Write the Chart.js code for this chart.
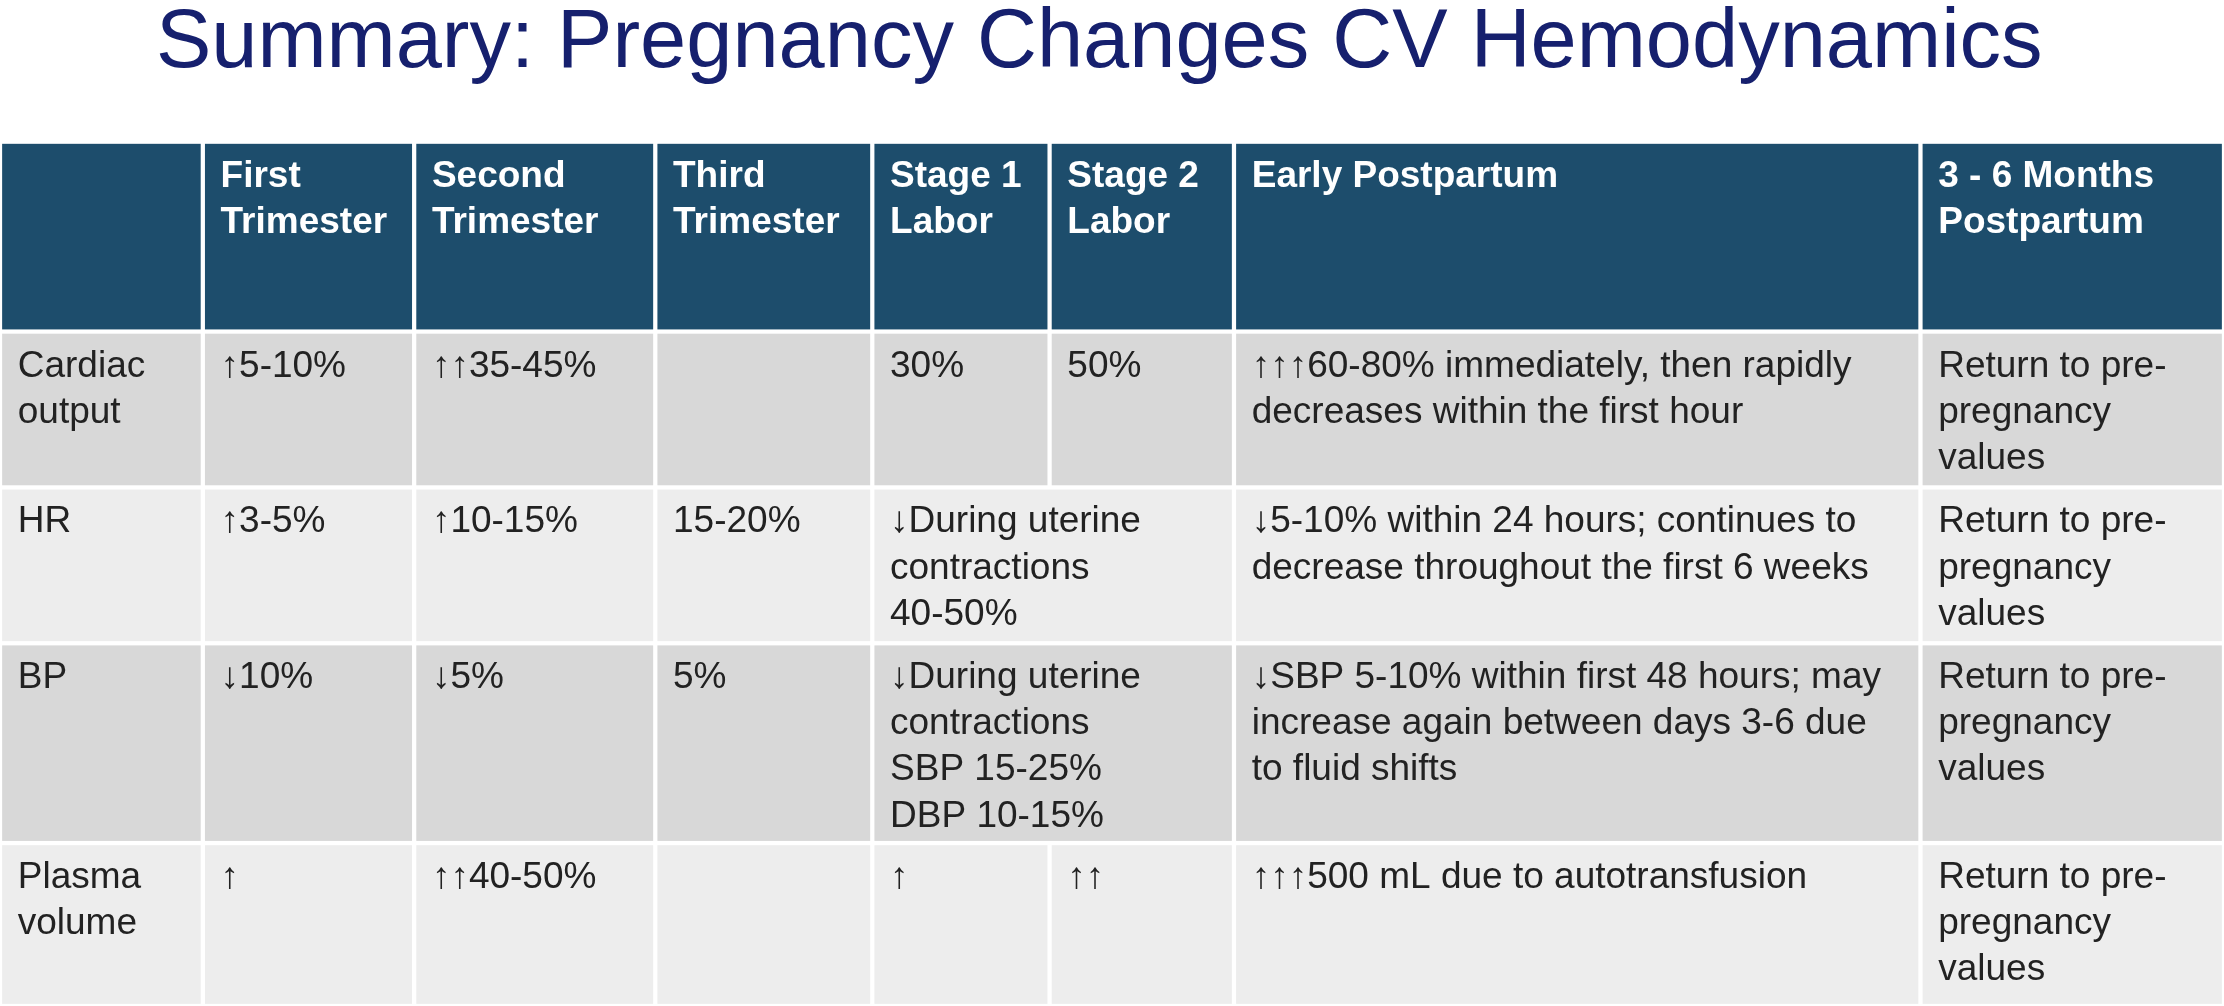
<!DOCTYPE html>
<html>
<head>
<meta charset="UTF-8">
<script src="https://cdn.jsdelivr.net/npm/chart.js"></script>
<style>
  html, body { margin:0; padding:0; background:#fff; overflow:hidden; }
  canvas { display:block; }
</style>
</head>
<body>
<canvas id="tabla" width="2224" height="1006"></canvas>
<script>
// table content
const title = "Summary: Pregnancy Changes CV Hemodynamics";
const headers = ["", "First\nTrimester", "Second\nTrimester", "Third\nTrimester", "Stage 1\nLabor", "Stage 2\nLabor", "Early Postpartum", "3 - 6 Months\nPostpartum"];
const rowLabels = ["Cardiac\noutput", "HR", "BP", "Plasma\nvolume"];
// null = merged into the cell on its left
const cardiacOutput = ["↑5-10%", "↑↑35-45%", "", "30%", "50%", "↑↑↑60-80% immediately, then rapidly\ndecreases within the first hour", "Return to pre-\npregnancy\nvalues"];
const heartRate = ["↑3-5%", "↑10-15%", "15-20%", "↓During uterine\ncontractions\n40-50%", null, "↓5-10% within 24 hours; continues to\ndecrease throughout the first 6 weeks", "Return to pre-\npregnancy\nvalues"];
const bloodPressure = ["↓10%", "↓5%", "5%", "↓During uterine\ncontractions\nSBP 15-25%\nDBP 10-15%", null, "↓SBP 5-10% within first 48 hours; may\nincrease again between days 3-6 due\nto fluid shifts", "Return to pre-\npregnancy\nvalues"];
const plasmaVolume = ["↑", "↑↑40-50%", "", "↑", "↑↑", "↑↑↑500 mL due to autotransfusion", "Return to pre-\npregnancy\nvalues"];
const rowsData = [cardiacOutput, heartRate, bloodPressure, plasmaVolume];

// layout (scale units)
const colEdges = [0, 143, 292, 462, 615, 740, 870, 1354, 1568];
const rowEdges = [100, 234, 344, 454, 595, 710];
const rowFills = ["#d8d8d8", "#ededed", "#d8d8d8", "#ededed"];
const headFill = "#1d4d6c";

const tablePlugin = {
  id: "tablePlugin",
  afterDraw(chart) {
    const ctx = chart.ctx, xs = chart.scales.x, ys = chart.scales.y;
    const px = v => xs.getPixelForValue(v), py = v => ys.getPixelForValue(v);
    const k = px(1) - px(0);
    const font = (b) => `${b ? "bold " : ""}${Math.round(26.3 * k)}px "Liberation Sans", Arial, sans-serif`;
    const lh = 32.5 * k, gap = 1.5 * k;

    function cell(c0, c1, r, fill, text, bold, color) {
      const x0 = px(colEdges[c0]) + gap, x1 = px(colEdges[c1]) - gap;
      const y0 = py(rowEdges[r]) + gap, y1 = py(rowEdges[r + 1]) - gap;
      ctx.fillStyle = fill;
      ctx.fillRect(x0, y0, x1 - x0, y1 - y0);
      if (!text) return;
      ctx.fillStyle = color;
      ctx.font = font(bold);
      ctx.textBaseline = "top";
      ctx.textAlign = "left";
      text.split("\n").forEach((ln, i) => ctx.fillText(ln, x0 + 11 * k, y0 + 10 * k + i * lh));
    }

    ctx.save();
    ctx.fillStyle = "#16206e";
    ctx.font = `${Math.round(58.5 * k)}px "Liberation Sans", Arial, sans-serif`;
    ctx.textAlign = "center";
    ctx.textBaseline = "middle";
    ctx.fillText(title, px(775), py(31));

    headers.forEach((h, c) => cell(c, c + 1, 0, headFill, h, true, "#ffffff"));
    rowsData.forEach((row, r) => {
      cell(0, 1, r + 1, rowFills[r], rowLabels[r], false, "#222222");
      row.forEach((v, c) => {
        if (v === null) return;
        let span = 1;
        while (c + span < row.length && row[c + span] === null) span++;
        cell(c + 1, c + 1 + span, r + 1, rowFills[r], v, false, "#222222");
      });
    });
    ctx.restore();
  }
};

new Chart(document.getElementById("tabla"), {
  type: "scatter",
  data: { datasets: [{ data: [] }] },
  options: {
    responsive: false,
    animation: false,
    devicePixelRatio: 1,
    layout: { padding: 0 },
    plugins: { legend: { display: false }, tooltip: { enabled: false } },
    scales: {
      x: { type: "linear", min: 0, max: 1568, display: false },
      y: { type: "linear", min: 0, max: 710, reverse: true, display: false }
    }
  },
  plugins: [tablePlugin]
});
</script>
</body>
</html>
